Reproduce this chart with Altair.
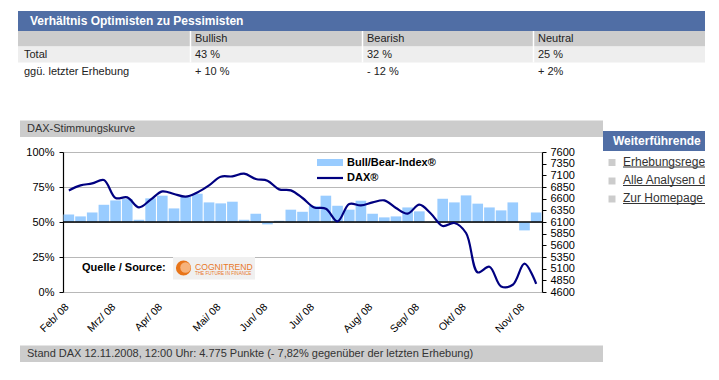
import json
import altair as alt
import pandas as pd

# ---------------- data ----------------
weeks = list(range(1, 42))
bull_bear = [55.4, 54.0, 56.8, 62.3, 65.4, 66.4, 51.6, 66.9, 68.8, 59.7,
             68.3, 70.2, 64.0, 63.3, 64.5, 51.6, 55.9, 48.3, 50.9, 58.8,
             57.3, 61.4, 68.8, 61.6, 58.8, 65.2, 55.9, 53.3, 54.0, 60.4,
             57.6, 50.3, 66.6, 64.0, 69.0, 63.1, 60.4, 58.3, 64.0, 44.0,
             56.8]
dax = [6777, 6884, 6927, 7000, 6614, 6627, 6413, 6578, 6756, 6700,
       6642, 6734, 6884, 7071, 7077, 7135, 7021, 6985, 6799, 6777,
       6614, 6413, 6385, 6113, 6486, 6456, 6520, 6563, 6400, 6278,
       6471, 6278, 6014, 6079, 5864, 5020, 5142, 4720, 4756, 5206,
       4775]
month_ticks = [1, 5, 9, 14, 18, 22, 27, 31, 35, 40]
month_labels = ["Feb/ 08", "Mrz/ 08", "Apr/ 08", "Mai/ 08", "Jun/ 08",
                "Jul/ 08", "Aug/ 08", "Sep/ 08", "Okt/ 08", "Nov/ 08"]
pct_ticks = [0, 25, 50, 75, 100]
dax_ticks = list(range(4600, 7601, 250))

table_title = "Verhältnis Optimisten zu Pessimisten"
table_cols = ["Bullish", "Bearish", "Neutral"]
row_labels = ["Total", "ggü. letzter Erhebung"]
table_total = ["43 %", "32 %", "25 %"]
table_change = ["+ 10 %", "- 12 %", "+ 2%"]
chart_title = "DAX-Stimmungskurve"
footer = "Stand DAX 12.11.2008, 12:00 Uhr: 4.775 Punkte (- 7,82% gegenüber der letzten Erhebung)"
side_title = "Weiterführende"
links = ["Erhebungsrege", "Alle Analysen d", "Zur Homepage"]

df = pd.DataFrame({"i": weeks, "bb": bull_bear, "dax": dax})
one = pd.DataFrame({"a": [0]})

FONT = "Liberation Sans"
OX, OY = 63, 152          # screen position of plot origin
W, H = 479, 140

BLUE = "#506ea5"
GRAY = "#cccccc"
LIGHT = "#eeeeee"
TXT = "#222222"


def rect(x1, y1, x2, y2, color):
    return alt.Chart(one).mark_rect(color=color).encode(
        x=alt.value(x1 - OX), x2=alt.value(x2 - OX),
        y=alt.value(y1 - OY), y2=alt.value(y2 - OY))


def hline(x1, x2, y, color, w=1.0):
    return alt.Chart(one).mark_rule(color=color, strokeWidth=w).encode(
        x=alt.value(x1 - OX), x2=alt.value(x2 - OX), y=alt.value(y - OY))


def vline(x, y1, y2, color, w=1.0):
    return alt.Chart(one).mark_rule(color=color, strokeWidth=w).encode(
        x=alt.value(x - OX), y=alt.value(y1 - OY), y2=alt.value(y2 - OY))


def text(s, x, y, size=11, bold=False, color=TXT, align="left"):
    return alt.Chart(one).mark_text(
        text=s, align=align, baseline="middle", fontSize=size,
        fontWeight="bold" if bold else "normal", color=color, font=FONT
    ).encode(x=alt.value(x - OX), y=alt.value(y - OY))


def dot(x, y, size, color):
    return alt.Chart(one).mark_point(filled=True, shape="circle", size=size,
                                     color=color, opacity=1).encode(
        x=alt.value(x - OX), y=alt.value(y - OY))


# ---------------- page decorations ----------------
col_x = [190, 362, 533]
decor_back = [
    rect(18, 11, 705, 31, BLUE),
    text(table_title, 30, 21, 12, True, "white"),
    rect(18, 31, 705, 46.5, GRAY),
    rect(18, 46.5, 705, 62.5, LIGHT),
]
for cx in col_x:
    decor_back.append(vline(cx + 0.5, 31, 62.5, "white", 1.5))
decor_back.append(text(row_labels[0], 24, 55))
decor_back.append(text(row_labels[1], 24, 71.5))
for k, cx in enumerate(col_x):
    decor_back.append(text(table_cols[k], cx + 5, 39))
    decor_back.append(text(table_total[k], cx + 5, 55))
    decor_back.append(text(table_change[k], cx + 5, 71.5))

decor_back += [
    rect(20, 120.5, 603, 137, GRAY),
    text(chart_title, 27, 129, 11, False, "#333333"),
    rect(20, 345.5, 603, 362, GRAY),
    text(footer, 27, 354, 11, False, "#333333"),
    rect(603, 131, 705, 151, BLUE),
    text(side_title, 613, 141, 12, True, "white"),
]
for k, ly in enumerate([161.5, 180, 198]):
    decor_back.append(rect(608.5, ly - 2.5, 615.5, ly + 4.5, GRAY))
    decor_back.append(text(links[k], 623, ly, 12, False, "#333333"))
    decor_back.append(hline(623, 705, ly + 5.5, "#333333", 1))

# ---------------- chart ----------------
x_scale = alt.Scale(domain=[0.5, 41.5], nice=False, zero=False)
label_expr = "%s[indexof(%s, datum.value)]" % (json.dumps(month_labels),
                                               json.dumps(month_ticks))
x_axis = alt.Axis(values=month_ticks, labelExpr=label_expr, labelAngle=-45,
                  labelAlign="right", labelBaseline="middle", labelPadding=13,
                  labelOffset=-2, ticks=False, tickSize=0, domain=False,
                  grid=False, title=None, labelOverlap=False, labelFontSize=10.5,
                  labelColor="black", labelFont=FONT, labelBound=False,
                  labelFlush=False)
pct_scale = alt.Scale(domain=[0, 100], nice=False, zero=False)
pct_axis = alt.Axis(values=pct_ticks, labelExpr="datum.value + '%'",
                    orient="left", domainColor="black", domainWidth=1.2,
                    tickColor="black", tickSize=4, labelPadding=5,
                    labelFontSize=11, labelColor="black", labelFont=FONT,
                    grid=True, gridColor="#b8b8b8", gridWidth=1,
                    title=None, labelOverlap=False, labelFlush=False)

bars = alt.Chart(df).transform_calculate(
    x0="datum.i - 0.455", x1="datum.i + 0.455", base="50"
).mark_bar(color="#99ccff").encode(
    x=alt.X("x0:Q", scale=x_scale, axis=x_axis),
    x2="x1:Q",
    y=alt.Y("bb:Q", scale=pct_scale, axis=pct_axis),
    y2="base:Q",
)
mid = alt.Chart(pd.DataFrame({"v": [50]})).mark_rule(
    color="black", strokeWidth=1.3).encode(
    y=alt.Y("v:Q", scale=pct_scale, axis=pct_axis))
pct_layer = alt.layer(bars, mid)

dax_axis = alt.Axis(values=dax_ticks, orient="right", format="d",
                    domainColor="black", domainWidth=1.2, tickColor="black",
                    tickSize=4, labelPadding=4, labelFontSize=11,
                    labelColor="black", labelFont=FONT, grid=False,
                    title=None, labelOverlap=False, labelFlush=False)
line = alt.Chart(df).mark_line(color="#000080", strokeWidth=2.2,
                               interpolate="catmull-rom").encode(
    x=alt.X("i:Q", scale=x_scale, axis=x_axis),
    y=alt.Y("dax:Q", scale=alt.Scale(domain=[4600, 7600], nice=False,
                                     zero=False), axis=dax_axis),
)

# legend, source note and logo inside plot
decor_front = [
    rect(317, 159, 343, 166, "#99ccff"),
    text("Bull/Bear-Index®", 347, 162.5, 11, True, "black"),
    hline(317, 343, 178, "#000080", 2.2),
    text("DAX®", 347, 178, 11, True, "black"),
    text("Quelle / Source:", 82, 267.5, 11, True, "black"),
    rect(173, 257, 255, 279.5, "#f0f0f0"),
    dot(183.5, 268, 230, "#e8751a"),
    dot(185.5, 267.5, 110, "#f7b27a"),
    text("COGNITREND", 195, 266.5, 8.6, False, "#e8782a"),
    text("THE FUTURE IN FINANCE", 195, 274, 4.6, False, "#e8782a"),
    rect(705, 0, 730, 380, "white"),
]

chart = alt.layer(*decor_back, pct_layer, line, *decor_front).resolve_scale(
    y="independent"
).properties(
    width=W, height=H,
    padding={"left": 55, "top": 144, "right": 703 - 55 - W, "bottom": 364 - 144 - H},
    autosize=alt.AutoSizeParams(type="none"),
    background="white",
).configure_view(stroke=None).configure_text(font=FONT)

chart.save("out.html", embed_options={"renderer": "svg", "actions": False})
